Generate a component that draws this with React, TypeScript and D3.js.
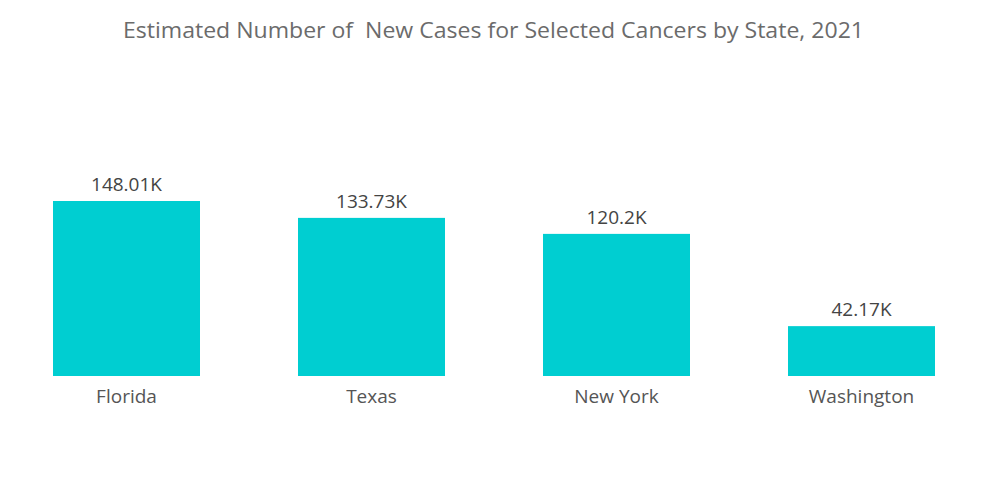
import React from "react";
import * as d3 from "d3";

const categories = ["Florida", "Texas", "New York", "Washington"];
const values = [148.01, 133.73, 120.2, 42.17];
const valueLabels = ["148.01K", "133.73K", "120.2K", "42.17K"];
const title = "Estimated Number of  New Cases for Selected Cancers by State, 2021";

const W = 1000;
const H = 504;

export default function App() {
  const x = d3.scaleBand<string>().domain(categories).range([53, 935]).paddingInner(0.4).paddingOuter(0);
  const y = d3.scaleLinear().domain([0, 148.01]).range([376, 201]);
  const font = "'Open Sans', sans-serif";
  return (
    <svg width={W} height={H} style={{ position: "absolute", left: 0, top: 0 }}>
      <rect width={W} height={H} fill="#fff" />
      <text x={493.5} y={38} textAnchor="middle" fontFamily={font} fontSize={22} fill="#6b6b6b" textLength={741} lengthAdjust="spacingAndGlyphs" style={{ whiteSpace: "pre" }}>
        {title}
      </text>
      {categories.map((c, i) => (
        <g key={c}>
          <rect x={x(c)} y={y(values[i])} width={x.bandwidth()} height={y(0) - y(values[i])} fill="#00CED1" />
          <text x={(x(c) as number) + x.bandwidth() / 2} y={y(values[i]) - 10} textAnchor="middle" fontFamily={font} fontSize={19} fill="#444">
            {valueLabels[i]}
          </text>
          <text x={(x(c) as number) + x.bandwidth() / 2} y={403} textAnchor="middle" fontFamily={font} fontSize={19} fill="#555">
            {c}
          </text>
        </g>
      ))}
    </svg>
  );
}
